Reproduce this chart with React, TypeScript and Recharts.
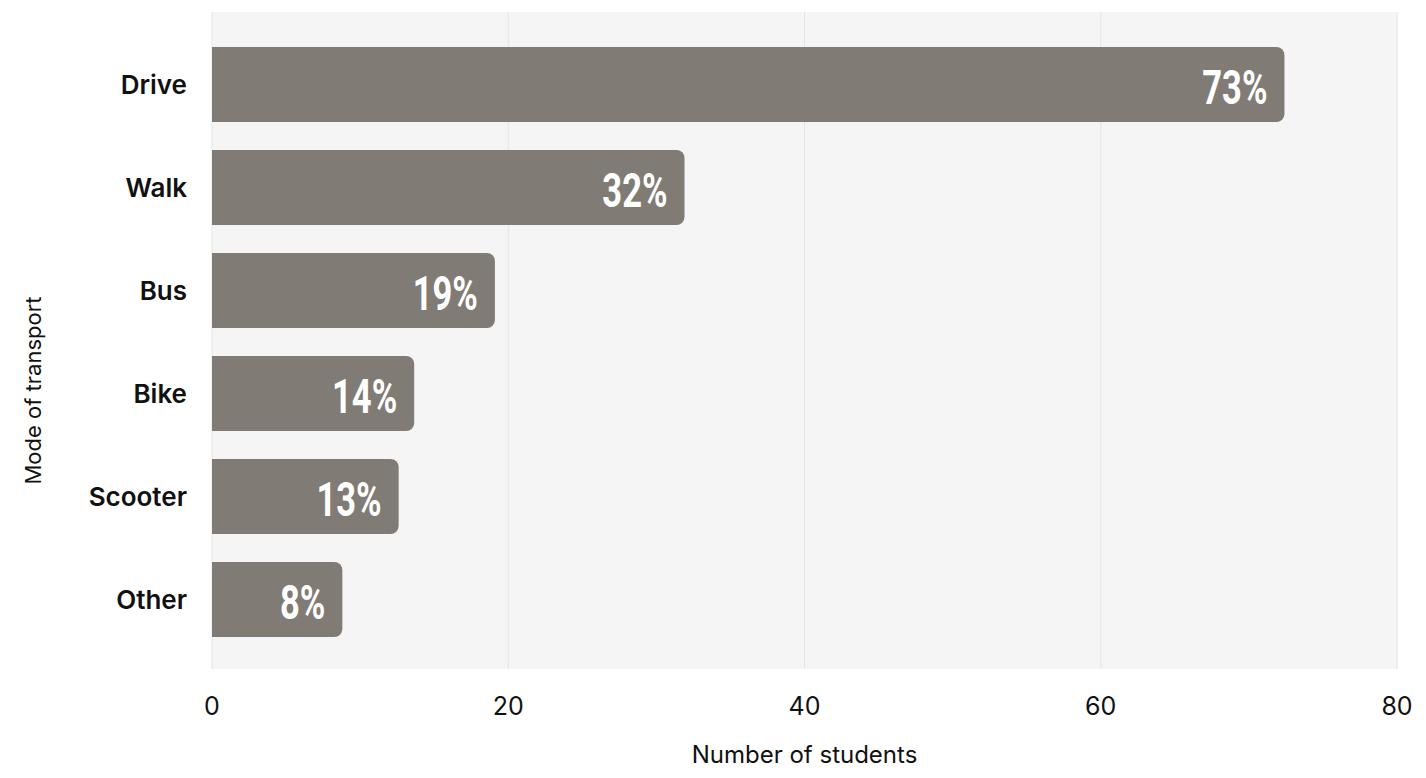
import React from "react";
import {
  Bar,
  BarChart,
  CartesianGrid,
  LabelList,
  XAxis,
  YAxis,
} from "recharts";

const modes = ["Drive", "Walk", "Bus", "Bike", "Scooter", "Other"];
const students = [72.4, 31.9, 19.1, 13.65, 12.6, 8.8];
const shares = ["73%", "32%", "19%", "14%", "13%", "8%"];
const xTicks = [0, 20, 40, 60, 80];

const data = modes.map((mode, i) => ({
  mode,
  students: students[i],
  share: shares[i],
}));

const font = "Inter, 'Noto Sans', sans-serif";

function YTitle({ viewBox }: any) {
  const cx = 25;
  const cy = viewBox.y + viewBox.height / 2 + 50;
  return (
    <text
      x={cx}
      y={cy}
      transform={`rotate(-90 ${cx} ${cy})`}
      textAnchor="middle"
      dominantBaseline="central"
      fontSize={22}
      fontFamily={font}
      fill="#111"
    >
      Mode of transport
    </text>
  );
}

function XTitle({ viewBox }: any) {
  return (
    <text
      x={viewBox.x + viewBox.width / 2}
      y={746}
      textAnchor="middle"
      dominantBaseline="central"
      fontSize={24}
      fontFamily={font}
      fill="#111"
    >
      Number of students
    </text>
  );
}

// condensed look: Roboto bold squeezed horizontally
function ShareLabel(props: any) {
  const { x, y, width, height, value } = props;
  const ax = x + width - 17;
  const ay = y + height / 2 + 3;
  return (
    <text
      transform={`translate(${ax} ${ay}) scale(0.72 1)`}
      textAnchor="end"
      dominantBaseline="central"
      fontSize={48}
      fontWeight={700}
      fontFamily="Roboto, 'DejaVu Sans', sans-serif"
      fill="#ffffff"
    >
      {value}
    </text>
  );
}

export default function App() {
  return (
    <div style={{ width: 1410, height: 762, fontFamily: font }}>
      <BarChart
        width={1410}
        height={762}
        data={data}
        layout="vertical"
        margin={{ top: 4, right: 21, bottom: 0, left: 0 }}
        barSize={75}
      >
        <CartesianGrid
          horizontal={false}
          stroke="#e4e4e4"
          fill="#f5f5f5"
          fillOpacity={1}
        />
        <XAxis
          type="number"
          domain={[0, 80]}
          ticks={xTicks}
          axisLine={false}
          tickLine={false}
          tickMargin={22}
          height={101}
          tick={{ fontSize: 25, fill: "#111", fontFamily: font }}
          label={<XTitle />}
        />
        <YAxis
          type="category"
          dataKey="mode"
          width={204}
          axisLine={false}
          tickLine={false}
          tickMargin={19}
          padding={{ top: 21, bottom: 18 }}
          tick={{ fontSize: 26, fontWeight: 600, fill: "#111", fontFamily: font }}
          label={<YTitle />}
        />
        <Bar
          dataKey="students"
          fill="#807b74"
          radius={[0, 8, 8, 0]}
          isAnimationActive={false}
        >
          <LabelList dataKey="share" content={<ShareLabel />} />
        </Bar>
      </BarChart>
    </div>
  );
}
